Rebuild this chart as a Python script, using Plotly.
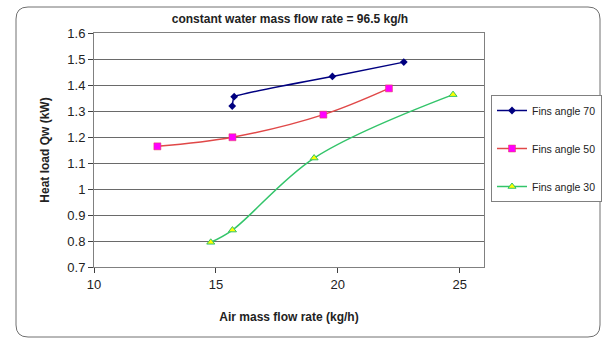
import plotly.graph_objects as go

# Data
x70 = [15.67, 15.75, 19.78, 22.71]
y70 = [1.319, 1.355, 1.433, 1.488]
x50 = [12.6, 15.68, 19.41, 22.1]
y50 = [1.164, 1.199, 1.286, 1.387]
x30 = [14.79, 15.68, 19.03, 24.73]
y30 = [0.795, 0.842, 1.119, 1.363]

xticks = [10, 15, 20, 25]
yticks = [0.7, 0.8, 0.9, 1.0, 1.1, 1.2, 1.3, 1.4, 1.5, 1.6]
yticklabels = ["0.7", "0.8", "0.9", "1", "1.1", "1.2", "1.3", "1.4", "1.5", "1.6"]

FONT = "Liberation Sans, Arial, sans-serif"

W, H = 605, 341
L, R, T, B = 94, 484, 33, 267

fig = go.Figure()
fig.add_trace(go.Scatter(
    x=x70, y=y70, name="Fins angle 70", mode="lines+markers",
    line=dict(color="#000080", width=1.5, shape="spline", smoothing=0.3),
    marker=dict(symbol="diamond", size=6, color="#000080"),
    legendgroup="a"))
fig.add_trace(go.Scatter(
    x=x50, y=y50, name="Fins angle 50", mode="lines+markers",
    line=dict(color="#E04848", width=1.5, shape="spline"),
    marker=dict(symbol="square", size=7, color="#FF00FF",
                line=dict(color="#E04848", width=0.5)),
    legendgroup="b"))
fig.add_trace(go.Scatter(
    x=x30, y=y30, name="Fins angle 30", mode="lines+markers",
    line=dict(color="#33C46A", width=1.5, shape="spline"),
    marker=dict(symbol="triangle-up", size=7, color="#FFFF00",
                line=dict(color="#33C46A", width=1)),
    legendgroup="c"))

# outer rounded border in paper coords
def px2x(p):
    return (p - L) / (R - L)

def py2y(p):
    return (B - p) / (B - T)

x0, x1 = px2x(16), px2x(600)
y0, y1 = py2y(337), py2y(7)
rx, ry = 12 / (R - L), 12 / (B - T)
path = (f"M {x0+rx},{y1} L {x1-rx},{y1} Q {x1},{y1} {x1},{y1-ry} "
        f"L {x1},{y0+ry} Q {x1},{y0} {x1-rx},{y0} "
        f"L {x0+rx},{y0} Q {x0},{y0} {x0},{y0+ry} "
        f"L {x0},{y1-ry} Q {x0},{y1} {x0+rx},{y1} Z")
fig.add_shape(type="path", path=path, xref="paper", yref="paper",
              line=dict(color="#707070", width=1), layer="below")

fig.update_layout(
    width=W, height=H,
    margin=dict(l=L, r=W - R, t=T, b=H - B, autoexpand=False),
    paper_bgcolor="white", plot_bgcolor="white",
    font=dict(family=FONT, size=13, color="#222222"),
    title=dict(text="<b>constant water mass flow rate = 96.5 kg/h</b>",
               x=px2x(290), xref="paper", xanchor="center",
               y=1 - 19 / H, yanchor="middle",
               font=dict(size=12, color="#222222", family=FONT)),
    showlegend=True,
    legend=dict(x=px2x(491), y=py2y(95), xanchor="left", yanchor="top",
                bordercolor="#808080", borderwidth=1, bgcolor="white",
                font=dict(size=10.5, color="#222222", family=FONT),
                traceorder="grouped", tracegroupgap=19,
                itemwidth=30),
)

fig.update_xaxes(
    range=[10, 26], tickvals=xticks, ticktext=[str(v) for v in xticks],
    showgrid=False, zeroline=False, automargin=False,
    showline=True, linecolor="#808080", linewidth=1, mirror=True,
    ticks="outside", ticklen=5, tickcolor="#404040",
    title=dict(text="<b>Air mass flow rate (kg/h)</b>", standoff=22,
               font=dict(size=12, family=FONT, color="#222222")),
)
fig.update_yaxes(
    range=[0.7, 1.6], tickvals=yticks, ticktext=yticklabels,
    showgrid=True, gridcolor="#6a6a6a", gridwidth=1, zeroline=False,
    automargin=False,
    showline=True, linecolor="#808080", linewidth=1, mirror=True,
    ticks="outside", ticklen=5, tickcolor="#404040",
    title=dict(text="<b>Heat load Qw (kW)</b>", standoff=15,
               font=dict(size=12, family=FONT, color="#222222")),
)

fig.write_html("out.html",
               config={"displayModeBar": False},
               post_script="document.body.style.margin='0px';")
